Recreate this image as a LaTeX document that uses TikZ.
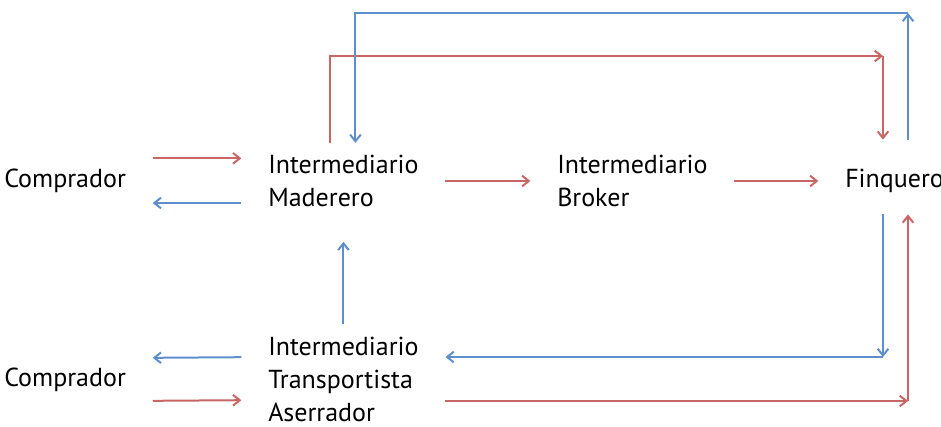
\documentclass[tikz,border=0pt]{standalone}
\usepackage{fontspec}
\setmainfont{PT Sans}
\usetikzlibrary{arrows.meta, positioning}
\usepackage{xcolor}
\definecolor{flowred}{HTML}{C96565}
\definecolor{flowblue}{HTML}{5E8FCC}

\begin{document}
\begin{tikzpicture}[x=0.75pt, y=-0.75pt,
    actor/.style={inner sep=0pt, anchor=west, align=left, font=\fontsize{19.5}{24.75}\selectfont},
    redflow/.style={draw=flowred, line width=1.5pt, -{Straight Barb[length=5pt, width=8pt]}},
    blueflow/.style={draw=flowblue, line width=1.5pt, -{Straight Barb[length=5pt, width=8pt]}},
    gap/.style={shorten <=20pt, shorten >=20pt}]
    \useasboundingbox (0,0) rectangle (941,426);

    % actors
    \node[actor] (comp1) at (4,181) {Comprador};
    \node[actor] (mad) at (268,181) {Intermediario\\Maderero};
    \node[actor] (broker) at (557,181) {Intermediario\\Broker};
    \node[actor] (finq) at (845,181) {Finquero};
    \node[actor] (comp2) at (4,380) {Comprador};
    \node[actor] (trans) at (268,379) {Intermediario\\Transportista\\Aserrador};

    % corners of the long loops
    \coordinate (rtop) at (883,56);
    \coordinate (btop) at (908,13);
    \coordinate (bbot) at (883,357);
    \coordinate (rbot) at (908,401);

    % short flows
    \path[redflow, gap] ([yshift=17pt]comp1.east) -- ([yshift=17pt]mad.west);
    \path[blueflow, gap] ([yshift=-16.5pt]mad.west) -- ([yshift=-16.5pt]comp1.east);
    \path[blueflow, gap] ([yshift=16.5pt]trans.west) -- ([yshift=16.5pt]comp2.east);
    \path[redflow, gap] ([yshift=-15.75pt]comp2.east) -- ([yshift=-15.75pt]trans.west);
    \path[redflow, gap] (mad) -- (broker);
    \path[redflow, gap] (broker) -- (finq);
    \path[blueflow, shorten <=9pt, shorten >=26pt] (trans.north) -- (mad.south);

    % long loops
    \path[redflow] ([xshift=-10pt, yshift=9pt]mad.north) |- (rtop);
    \path[redflow, shorten >=22pt] (rtop) -- (rtop |- finq.north);
    \path[blueflow, shorten <=22pt] (btop |- finq.north) -- (btop);
    \path[blueflow] (btop) -| ([xshift=9pt, yshift=9pt]mad.north);
    \path[blueflow, shorten <=16pt] (bbot |- finq.south) -- (bbot);
    \path[blueflow, shorten >=20pt] (bbot) -- (bbot -| trans.east);
    \path[redflow, shorten <=20pt] (rbot -| trans.east) -- (rbot);
    \path[redflow, shorten >=16pt] (rbot) -- (rbot |- finq.south);
\end{tikzpicture}
\end{document}
